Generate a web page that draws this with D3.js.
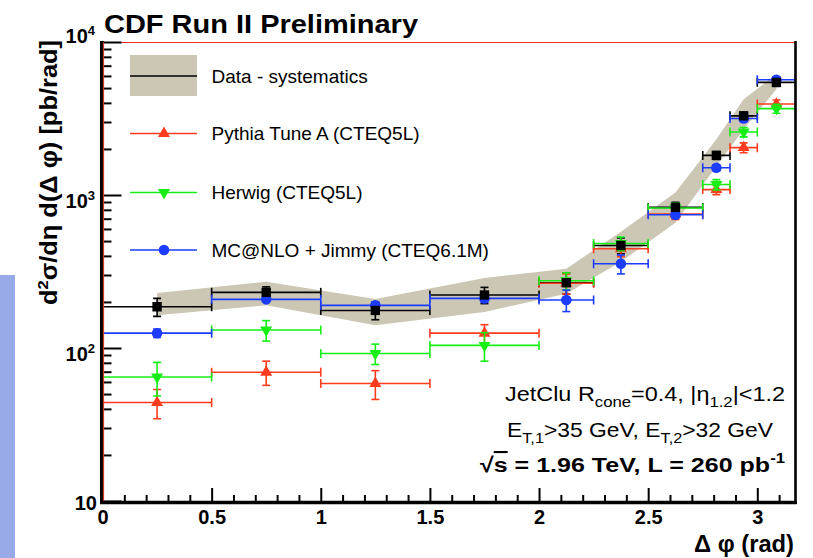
<!DOCTYPE html>
<html>
<head>
<meta charset="utf-8">
<script src="https://cdn.jsdelivr.net/npm/d3@7"></script>
<style>
body { margin: 0; background: #fff; }
svg { display: block; font-family: "Liberation Sans", Arial, Helvetica, sans-serif; }
</style>
</head>
<body>
<div id="chart"></div>
<script>
// bins in delta phi (rad)
const binLo = [0, 0.5, 1.0, 1.5, 2.0, 2.25, 2.5, 2.75, 2.875, 3.0];
const binHi = [0.5, 1.0, 1.5, 2.0, 2.25, 2.5, 2.75, 2.875, 3.0, 3.175];
const binCenter = [0.25, 0.75, 1.25, 1.75, 2.125, 2.375, 2.625, 2.8125, 2.9375, 3.0875];

// data (pb/rad)
const dataVal = [186, 231, 176, 222, 267, 468, 830, 1815, 3290, 5450];
const dataErr = [25, 20, 23, 27, 42, 55, 65, 110, 200, 330];
const sysLow  = [164, 190, 141, 172, 226, 366, 659, 1541, 2690, 4920];
const sysHigh = [229, 271, 209, 287, 330, 575, 1038, 2313, 4230, 6160];

// MC predictions
const pythiaVal = [44, 69.5, 58.6, 125, 265, 445, 751, 1085, 2040, 3930];
const pythiaErr = [9.5, 12.5, 12.5, 17, 40, 50, 60, 80, 150, 250];
const herwigVal = [64.6, 131, 92, 104, 275, 482, 822, 1170, 2580, 3670];
const herwigErr = [16, 20, 14, 22, 35, 50, 60, 90, 180, 250];
const mcnloVal = [125, 208, 190, 211, 206, 355, 743, 1507, 3160, 5660];
const mcnloErr = [8, 6, 9, 12, 33, 50, 40, 70, 150, 250];

const xTicks = [0, 0.5, 1, 1.5, 2, 2.5, 3];
const yTicks = [10, 100, 1000, 10000];
const yTickExp = ["", "2", "3", "4"];

const legendLabels = ["Data - systematics", "Pythia Tune A (CTEQ5L)", "Herwig (CTEQ5L)", "MC@NLO + Jimmy (CTEQ6.1M)"];

const width = 813, height = 558;
const plot = { left: 102.5, right: 795.5, top: 42, bottom: 501 };

const colRed = "#ff3c1e", colGreen = "#16ee16", colBlue = "#1c3cff", colBand = "#cbc7b4";

const svg = d3.select("#chart").append("svg")
    .attr("width", width)
    .attr("height", height);

// blue strip at the left edge
svg.append("rect")
    .attr("x", 0).attr("y", 275).attr("width", 15).attr("height", height - 275)
    .attr("fill", "#98aae8");

const x = d3.scaleLinear().domain([0, 3.175]).range([plot.left, plot.right]);
const y = d3.scaleLog().domain([10, 10000]).range([plot.bottom, plot.top]);

svg.append("clipPath").attr("id", "clip")
    .append("rect")
    .attr("x", plot.left).attr("y", plot.top)
    .attr("width", plot.right - plot.left).attr("height", plot.bottom - plot.top);

const g = svg.append("g").attr("clip-path", "url(#clip)");

// systematics band
const band = d3.area()
    .x((d, i) => x(binCenter[i]))
    .y0((d, i) => y(sysLow[i]))
    .y1((d, i) => y(sysHigh[i]));

g.append("path")
    .datum(binCenter)
    .attr("d", band)
    .attr("fill", colBand);

// helper: error bars with caps plus marker
function drawSeries(vals, errs, color, symbol, rotate) {
    const s = g.append("g").attr("stroke", color).attr("stroke-width", 1.6).attr("fill", "none");
    vals.forEach((v, i) => {
        const cy = y(v), cx = x(binCenter[i]);
        const x0 = x(binLo[i]), x1 = x(binHi[i]);
        const yt = y(v + errs[i]), yb = y(Math.max(v - errs[i], 10.5));
        s.append("line").attr("x1", x0).attr("x2", x1).attr("y1", cy).attr("y2", cy);
        s.append("line").attr("x1", x0).attr("x2", x0).attr("y1", cy - 4.5).attr("y2", cy + 4.5);
        s.append("line").attr("x1", x1).attr("x2", x1).attr("y1", cy - 4.5).attr("y2", cy + 4.5);
        s.append("line").attr("x1", cx).attr("x2", cx).attr("y1", yt).attr("y2", yb);
        s.append("line").attr("x1", cx - 4).attr("x2", cx + 4).attr("y1", yt).attr("y2", yt);
        s.append("line").attr("x1", cx - 4).attr("x2", cx + 4).attr("y1", yb).attr("y2", yb);
    });
    if (symbol) {
        g.append("g").selectAll("path")
            .data(vals)
            .join("path")
            .attr("d", symbol)
            .attr("transform", (d, i) => `translate(${x(binCenter[i])},${y(d)}) rotate(${rotate || 0})`)
            .attr("fill", color);
    }
}

const triangle = d3.symbol().type(d3.symbolTriangle).size(62);
const circle = d3.symbol().type(d3.symbolCircle).size(88);
const square = d3.symbol().type(d3.symbolSquare).size(88);

drawSeries(dataVal, dataErr, "#000", null);
drawSeries(pythiaVal, pythiaErr, colRed, triangle, 0);
drawSeries(herwigVal, herwigErr, colGreen, triangle, 180);
drawSeries(mcnloVal, mcnloErr, colBlue, circle, 0);
g.append("g").selectAll("path")
    .data(dataVal)
    .join("path")
    .attr("d", square)
    .attr("transform", (d, i) => `translate(${x(binCenter[i])},${y(d)})`)
    .attr("fill", "#000");

// frame
svg.append("line")
    .attr("x1", plot.left).attr("x2", plot.right).attr("y1", plot.top + 0.5).attr("y2", plot.top + 0.5)
    .attr("stroke", "#e8302a").attr("stroke-width", 1.2);

// x axis
const xMinor = d3.range(0, 3.175, 0.1).filter(v => Math.abs(v * 2 - Math.round(v * 2)) > 0.01);
svg.append("g")
    .attr("transform", `translate(0,${plot.bottom})`)
    .call(d3.axisBottom(x).tickValues(xMinor).tickSize(-6).tickFormat(""))
    .call(a => a.select(".domain").remove())
    .selectAll("line").attr("stroke", "#000").attr("stroke-width", 2);

const xAxis = svg.append("g")
    .attr("transform", `translate(0,${plot.bottom})`)
    .call(d3.axisBottom(x).tickValues(xTicks).tickSize(-13).tickPadding(9).tickFormat(d => d))
    .call(a => a.select(".domain").remove());
xAxis.selectAll("line").attr("stroke", "#000").attr("stroke-width", 2);
xAxis.selectAll("text")
    .attr("fill", "#000")
    .style("font-size", "20px")
    .style("font-weight", "bold")
    .style("font-family", "'Liberation Sans', Arial, sans-serif");

// y axis
const yMinor = [];
[10, 100, 1000].forEach(dec => d3.range(2, 10).forEach(k => yMinor.push(dec * k)));
svg.append("g")
    .attr("transform", `translate(${plot.left},0)`)
    .call(d3.axisLeft(y).tickValues(yMinor).tickSize(-9).tickFormat(""))
    .call(a => a.select(".domain").remove())
    .selectAll("line").attr("stroke", "#000").attr("stroke-width", 2);
svg.append("g")
    .attr("transform", `translate(${plot.left},0)`)
    .call(d3.axisLeft(y).tickValues(yTicks).tickSize(-19).tickFormat(""))
    .call(a => a.select(".domain").remove())
    .selectAll("line").attr("stroke", "#000").attr("stroke-width", 2);

const yLab = svg.append("g")
    .attr("font-size", 20).attr("font-weight", "bold").attr("text-anchor", "end");
yTicks.forEach((v, i) => {
    let base = y(v) + 13;
    if (v === 10) base = y(v) + 9;
    if (v === 10000) base = y(v) + 1;
    const t = yLab.append("text").attr("x", yTickExp[i] ? 95 : 97).attr("y", base);
    t.append("tspan").text("10");
    if (yTickExp[i]) t.append("tspan").attr("font-size", 13).attr("dy", -8).text(yTickExp[i]);
});

// axis lines (thick black, red frame line on the left)
svg.append("line")
    .attr("x1", plot.left - 0.5).attr("x2", plot.left - 0.5).attr("y1", plot.top - 1).attr("y2", plot.bottom + 3)
    .attr("stroke", "#000").attr("stroke-width", 4);
svg.append("line")
    .attr("x1", plot.left + 1).attr("x2", plot.left + 1).attr("y1", plot.top).attr("y2", plot.bottom)
    .attr("stroke", "#d83a2a").attr("stroke-width", 1.2);
svg.append("line")
    .attr("x1", plot.left - 2.5).attr("x2", plot.right + 1.2).attr("y1", plot.bottom + 1.5).attr("y2", plot.bottom + 1.5)
    .attr("stroke", "#000").attr("stroke-width", 3.5);
svg.append("line")
    .attr("x1", plot.right).attr("x2", plot.right).attr("y1", plot.top - 1).attr("y2", plot.bottom + 3)
    .attr("stroke", "#000").attr("stroke-width", 2.6);

// title
svg.append("text")
    .attr("x", 104).attr("y", 33)
    .attr("font-size", 25).attr("font-weight", "bold")
    .attr("textLength", 314).attr("lengthAdjust", "spacingAndGlyphs")
    .text("CDF Run II Preliminary");

// y title
const yt = svg.append("text")
    .attr("transform", "translate(57,40) rotate(-90)")
    .attr("text-anchor", "end")
    .attr("font-size", 23).attr("font-weight", "bold")
    .attr("textLength", 265).attr("lengthAdjust", "spacingAndGlyphs");
yt.append("tspan").text("d");
yt.append("tspan").attr("font-size", 15).attr("dy", -9).text("2");
yt.append("tspan").attr("dy", 9).text("σ/dη d(Δ φ) [pb/rad]");

// x title
svg.append("text")
    .attr("x", 794).attr("y", 552)
    .attr("text-anchor", "end")
    .attr("font-size", 23).attr("font-weight", "bold")
    .attr("textLength", 100).attr("lengthAdjust", "spacingAndGlyphs")
    .text("Δ φ (rad)");

// legend
const legY = [76, 133.5, 192.5, 250];
const leg = svg.append("g");
leg.append("rect").attr("x", 130).attr("y", 55).attr("width", 67).attr("height", 41).attr("fill", colBand);
leg.append("line").attr("x1", 130).attr("x2", 197).attr("y1", legY[0]).attr("y2", legY[0])
    .attr("stroke", "#000").attr("stroke-width", 1.6);
[[colRed, triangle, 0], [colGreen, triangle, 180], [colBlue, circle, 0]].forEach((c, k) => {
    const ly = legY[k + 1];
    leg.append("line").attr("x1", 130).attr("x2", 197).attr("y1", ly).attr("y2", ly)
        .attr("stroke", c[0]).attr("stroke-width", 1.6);
    leg.append("path").attr("d", c[1]).attr("fill", c[0])
        .attr("transform", `translate(164,${ly}) rotate(${c[2]})`);
});
leg.selectAll("text")
    .data(legendLabels)
    .join("text")
    .attr("x", 211.5)
    .attr("y", (d, i) => legY[i] + 6.5)
    .attr("font-size", 19)
    .text(d => d);

// annotations
function rich(sel, parts, small) {
    let shift = 0;
    parts.forEach(p => {
        const t = sel.append("tspan").text(p[0]);
        let target = 0;
        if (p[1] === "sub") target = 6;
        if (p[1] === "sup") target = -8;
        if (target !== shift) t.attr("dy", target - shift);
        if (p[1]) t.attr("font-size", small);
        shift = target;
    });
}

const a1 = svg.append("text").attr("x", 505).attr("y", 401).attr("font-size", 21)
    .attr("textLength", 280).attr("lengthAdjust", "spacingAndGlyphs");
rich(a1, [["JetClu R"], ["cone", "sub"], ["=0.4, |η"], ["1.2", "sub"], ["|<1.2"]], 15);

const a2 = svg.append("text").attr("x", 507).attr("y", 437).attr("font-size", 21)
    .attr("textLength", 266).attr("lengthAdjust", "spacingAndGlyphs");
rich(a2, [["E"], ["T,1", "sub"], [">35 GeV, E"], ["T,2", "sub"], [">32 GeV"]], 15);

const a3 = svg.append("text").attr("x", 480).attr("y", 472)
    .attr("font-size", 21).attr("font-weight", "bold")
    .attr("textLength", 305).attr("lengthAdjust", "spacingAndGlyphs");
a3.append("tspan").text("√");
a3.append("tspan").style("text-decoration", "overline").text("s");
a3.append("tspan").text(" = 1.96 TeV, L = 260 pb");
a3.append("tspan").attr("font-size", 14).attr("dy", -9).text("-1");
</script>
</body>
</html>
